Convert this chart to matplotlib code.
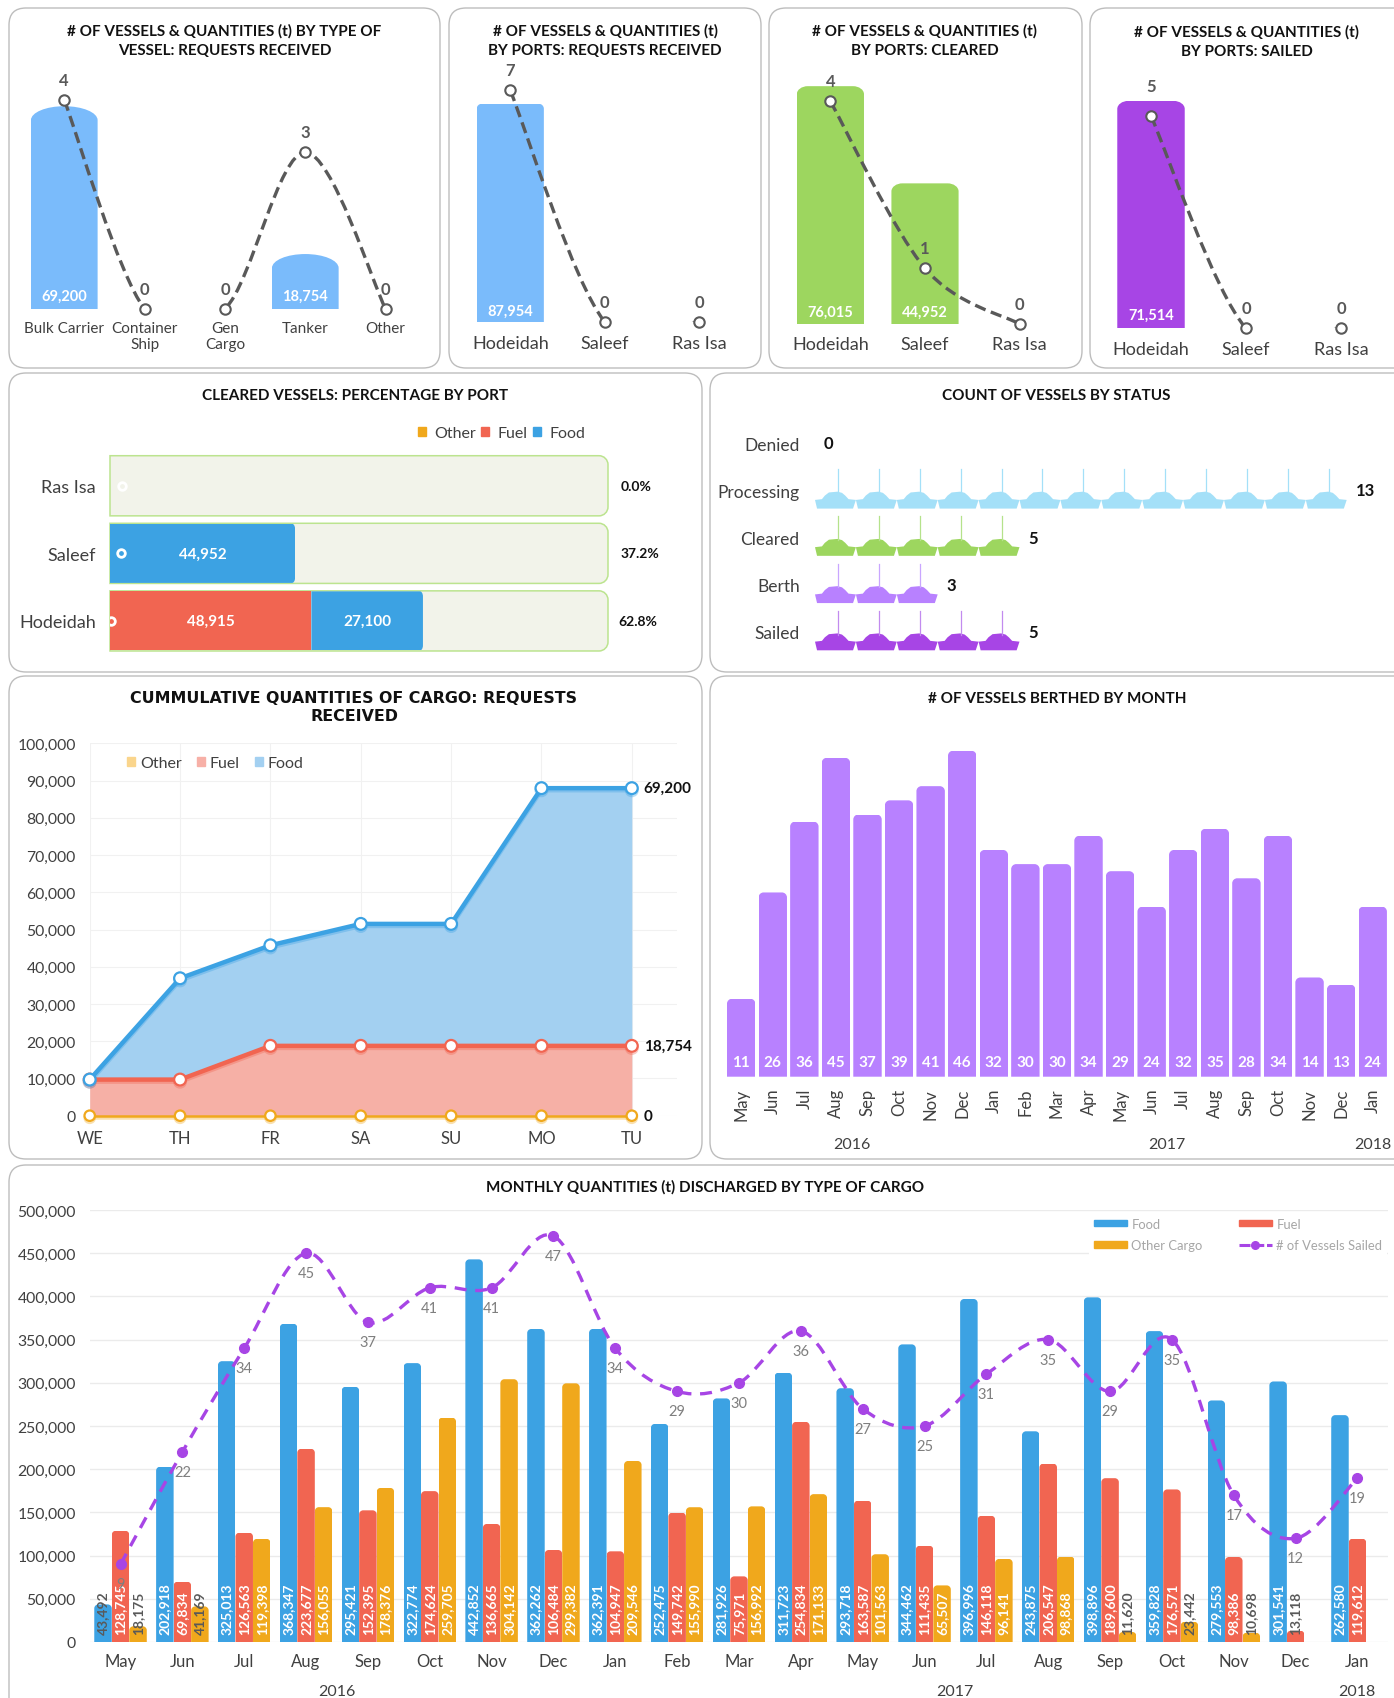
import numpy as np
import matplotlib
matplotlib.use("Agg")
import matplotlib.pyplot as plt
from matplotlib.patches import FancyBboxPatch, PathPatch, Patch
from matplotlib.lines import Line2D
from matplotlib.path import Path
import matplotlib.patheffects as pe

plt.rcParams['font.family'] = ['Lato', 'DejaVu Sans']

# ---------- data ----------
type_cats = ['Bulk Carrier', 'Container\nShip', 'Gen\nCargo', 'Tanker', 'Other']
type_qty = [69200, 0, 0, 18754, 0]
type_vessels = [4, 0, 0, 3, 0]

port_cats = ['Hodeidah', 'Saleef', 'Ras Isa']
req_qty = [87954, 0, 0]
req_vessels = [7, 0, 0]
clr_qty = [76015, 44952, 0]
clr_vessels = [4, 1, 0]
sail_qty = [71514, 0, 0]
sail_vessels = [5, 0, 0]

pct_ports = ['Hodeidah', 'Saleef', 'Ras Isa']
pct_fuel = [48915, 0, 0]
pct_food = [27100, 44952, 0]
pct_other = [0, 0, 0]
pct_total = 120967
pct_labels = ['62.8%', '37.2%', '0.0%']
pct_dots = [300, 2700, 2900]

status_cats = ['Denied', 'Processing', 'Cleared', 'Berth', 'Sailed']
status_counts = [0, 13, 5, 3, 5]

days = ['WE', 'TH', 'FR', 'SA', 'SU', 'MO', 'TU']
cum_other = [0, 0, 0, 0, 0, 0, 0]
cum_fuel = [9700, 9700, 18754, 18754, 18754, 18754, 18754]
cum_food = [0, 27200, 27000, 32750, 32750, 69200, 69200]

months = ['May', 'Jun', 'Jul', 'Aug', 'Sep', 'Oct', 'Nov', 'Dec', 'Jan', 'Feb', 'Mar',
          'Apr', 'May', 'Jun', 'Jul', 'Aug', 'Sep', 'Oct', 'Nov', 'Dec', 'Jan']
berthed = [11, 26, 36, 45, 37, 39, 41, 46, 32, 30, 30, 34, 29, 24, 32, 35, 28, 34, 14, 13, 24]

food = [43492, 202918, 325013, 368347, 295421, 322774, 442852, 362262, 362391, 252475, 281926,
        311723, 293718, 344462, 396996, 243875, 398896, 359828, 279553, 301541, 262580]
fuel = [128745, 69834, 126563, 223677, 152395, 174624, 136665, 106484, 104947, 149742, 75971,
        254834, 163587, 111435, 146118, 206547, 189600, 176571, 98386, 13118, 119612]
other = [18175, 41169, 119398, 156055, 178376, 259705, 304142, 299382, 209546, 155990, 156992,
         171133, 101563, 65507, 96141, 98868, 11620, 23442, 10698, 0, 0]
sailed = [9, 22, 34, 45, 37, 41, 41, 47, 34, 29, 30, 36, 27, 25, 31, 35, 29, 35, 17, 12, 19]

# ---------- styles ----------
W, H = 1394, 1699
BLUE, RED, ORANGE = '#3CA2E3', '#F16551', '#F0A81C'
LBLUE, LGREEN, LPURPLE, PURPLE = '#7ABBFB', '#9DD65F', '#B881FF', '#A745E5'
TXT, GRID, GREY = '#404040', '#EBEBEB', '#595959'
TITLE_KW = dict(fontweight='bold', color='#111111', ha='center', va='center', linespacing=1.42)
TITLE_FS = 11

fig = plt.figure(figsize=(W / 100, H / 100), dpi=100, facecolor='white')
bg = fig.add_axes([0, 0, 1, 1], zorder=-10)
bg.set_xlim(0, W)
bg.set_ylim(H, 0)
bg.axis('off')


def panel(x0, y0, x1, y1):
    r = 17
    bg.add_patch(FancyBboxPatch((x0 + r, y0 + r), x1 - x0 - 2 * r, y1 - y0 - 2 * r,
                                boxstyle=f"round,pad={r},rounding_size={r}",
                                fc='white', ec='#BDBDBD', lw=1.0))


def ptext(x, y, s, **kw):
    return fig.text(x / W, 1 - y / H, s, **kw)


def make_ax(x0, y0, x1, y1):
    ax = fig.add_axes([x0 / W, 1 - y1 / H, (x1 - x0) / W, (y1 - y0) / H])
    ax.patch.set_alpha(0)
    for s in ax.spines.values():
        s.set_visible(False)
    ax.tick_params(length=0, colors=TXT)
    return ax


def spline_path(xs, ys):
    pts = np.column_stack([xs, ys]).astype(float)
    n = len(pts)
    verts, codes = [pts[0]], [Path.MOVETO]
    for i in range(n - 1):
        p0, p1, p2, p3 = pts[max(i - 1, 0)], pts[i], pts[i + 1], pts[min(i + 2, n - 1)]
        verts += [p1 + (p2 - p0) / 6, p2 - (p3 - p1) / 6, p2]
        codes += [Path.CURVE4] * 3
    return Path(verts, codes)


def round_path(x0, x1, y0, y1, rx, ry, horizontal=False):
    k = 0.5523
    if not horizontal:
        v = [(x0, y0), (x0, y1 - ry), (x0, y1 - ry + k * ry), (x0 + rx - k * rx, y1), (x0 + rx, y1),
             (x1 - rx, y1), (x1 - rx + k * rx, y1), (x1, y1 - ry + k * ry), (x1, y1 - ry),
             (x1, y0), (x0, y0)]
    else:
        v = [(x0, y0), (x1 - rx, y0), (x1 - rx + k * rx, y0), (x1, y0 + ry - k * ry), (x1, y0 + ry),
             (x1, y1 - ry), (x1, y1 - ry + k * ry), (x1 - rx + k * rx, y1), (x1 - rx, y1),
             (x0, y1), (x0, y0)]
    c = [Path.MOVETO, Path.LINETO, Path.CURVE4, Path.CURVE4, Path.CURVE4, Path.LINETO,
         Path.CURVE4, Path.CURVE4, Path.CURVE4, Path.LINETO, Path.CLOSEPOLY]
    return Path(v, c)


def scales(ax):
    a = ax.transData.transform((0, 0))
    b = ax.transData.transform((1, 1))
    return abs(b[0] - a[0]), abs(b[1] - a[1])


def round_bars(ax, bars, rx_px, ry_px, horizontal=False):
    sx, sy = scales(ax)
    for b in bars:
        x, y, w, h = b.get_x(), b.get_y(), b.get_width(), b.get_height()
        if w <= 0 or h <= 0:
            continue
        rx, ry = rx_px / sx, min(ry_px / sy, h)
        b.set_clip_path(round_path(x, x + w, y, y + h, min(rx, w), ry, horizontal), ax.transData)


def combo(box, cats, qty, vessels, color, width, ylim1, ylim2, rx, ry, lab_off, fs, pad, top_off=20):
    ax = make_ax(*box)
    x = np.arange(len(cats))
    bars = ax.bar(x, qty, width=width, color=color)
    ax.set_xlim(-0.5, len(cats) - 0.5)
    ax.set_ylim(0, ylim1)
    ax.set_yticks([])
    ax.set_xticks(x, cats, fontsize=fs, color=TXT, linespacing=1.2)
    ax.tick_params(axis='x', pad=pad)
    round_bars(ax, bars, rx, ry)
    for xi, q in zip(x, qty):
        if q:
            ax.annotate(f'{q:,}', (xi, 0), xytext=(0, lab_off), textcoords='offset pixels',
                        color='white', fontweight='bold', fontsize=10.5, ha='center', va='center')
    ax2 = ax.twinx()
    ax2.patch.set_alpha(0)
    ax2.set_ylim(0, ylim2)
    ax2.set_yticks([])
    for s in ax2.spines.values():
        s.set_visible(False)
    ax2.add_patch(PathPatch(spline_path(x, vessels), fc='none', ec=GREY, lw=2.4,
                            linestyle=(0, (3.4, 1.7))))
    ax2.plot(x, vessels, ls='none', marker='o', ms=7.5, mfc='white', mec=GREY, mew=1.5, clip_on=False)
    for xi, v in zip(x, vessels):
        off = top_off if v else 20
        ax2.annotate(str(v), (xi, v), xytext=(0, off), textcoords='offset pixels', color=GREY,
                     fontweight='bold', fontsize=12, ha='center', va='center')
    return ax


# ---------- panels ----------
panel(9, 9, 440, 369)
panel(449, 9, 761, 369)
panel(769, 9, 1082, 369)
panel(1090, 9, 1430, 369)
panel(9, 374, 702, 673)
panel(710, 374, 1430, 673)
panel(9, 677, 702, 1160)
panel(710, 677, 1430, 1160)
panel(9, 1166, 1430, 1720)

# ---------- top row ----------
combo((24.1, 60, 425.8, 310), type_cats, type_qty, type_vessels, LBLUE, 0.83, 85300, 4.785, 33.5, 14, 13.5, 11, 8.5)
combo((463, 60, 746.7, 323), port_cats, req_qty, req_vessels, LBLUE, 0.71, 106000, 7.95, 5, 5, 11.5, 13, 9.5)
combo((783.1, 60, 1066.9, 325), port_cats, clr_qty, clr_vessels, LGREEN, 0.71, 84700, 4.76, 11, 8, 12.5, 13, 9)
combo((1103.5, 60, 1388.5, 329.3), port_cats, sail_qty, sail_vessels, PURPLE, 0.71, 84700, 6.34, 11, 8, 13.5, 13, 9, top_off=30)

ptext(224.5, 41, '# OF VESSELS & QUANTITIES (t) BY TYPE OF\nVESSEL: REQUESTS RECEIVED', fontsize=TITLE_FS, **TITLE_KW)
ptext(605.3, 41, '# OF VESSELS & QUANTITIES (t)\nBY PORTS: REQUESTS RECEIVED', fontsize=TITLE_FS, **TITLE_KW)
ptext(925, 41, '# OF VESSELS & QUANTITIES (t)\nBY PORTS: CLEARED', fontsize=TITLE_FS, **TITLE_KW)
ptext(1246.5, 42, '# OF VESSELS & QUANTITIES (t)\nBY PORTS: SAILED', fontsize=TITLE_FS, **TITLE_KW)

# ---------- cleared percentage ----------
ptext(355.5, 396, 'CLEARED VESSELS: PERCENTAGE BY PORT', fontsize=TITLE_FS, **TITLE_KW)
ax = make_ax(110, 453, 608, 655.7)
y = np.arange(3)
ax.set_xlim(0, pct_total)
ax.set_ylim(-0.5, 2.5)
ax.set_yticks(y, pct_ports, fontsize=13, color=TXT)
ax.set_xticks([])
ax.tick_params(axis='y', pad=10)
sx, sy = scales(ax)
for yi in y:
    ax.add_patch(PathPatch(round_path(0, pct_total, yi - 0.445, yi + 0.445, 9 / sx, 9 / sy, True),
                           fc='#F2F3EA', ec='#BCE48F', lw=1.1, clip_on=False, zorder=1))
fuel_b = ax.barh(y, pct_fuel, height=0.875, color=RED, zorder=2, label='Fuel')
food_b = ax.barh(y, pct_food, left=pct_fuel, height=0.875, color=BLUE, zorder=2, label='Food')
round_bars(ax, food_b, 3, 5, True)
for yi, f, g in zip(y, pct_fuel, pct_food):
    if f:
        ax.text(f / 2, yi, f'{f:,}', color='white', fontweight='bold', fontsize=11, ha='center', va='center', zorder=4)
    if g:
        ax.text(f + g / 2, yi, f'{g:,}', color='white', fontweight='bold', fontsize=11, ha='center', va='center', zorder=4)
ax.plot(pct_dots, y, ls='none', marker='o', ms=5.5, mfc='none', mec='white', mew=2, zorder=5)
for yi, lab, dx in zip(y, pct_labels, [10, 13, 13]):
    ax.annotate(lab, (pct_total, yi), xytext=(dx, 0), textcoords='offset pixels', color='#111111',
                fontweight='bold', fontsize=10, ha='left', va='center', annotation_clip=False)
ax.legend(handles=[Patch(color=ORANGE, label='Other'), Patch(color=RED, label='Fuel'), Patch(color=BLUE, label='Food')],
          ncol=3, frameon=False, fontsize=11.5, labelcolor=TXT, loc='center left',
          bbox_to_anchor=(418 / W, 1 - 434 / H), bbox_transform=fig.transFigure, borderpad=0, borderaxespad=0,
          handlelength=0.5, handleheight=0.5, handletextpad=0.5, columnspacing=0.36)

# ---------- ship pictogram ----------
ptext(1056.5, 396, 'COUNT OF VESSELS BY STATUS', fontsize=TITLE_FS, **TITLE_KW)
SHIP_X = [0.05, 0.93, 1.0, 0.82, 0.74, 0.66, 0.55, 0.34, 0.24, 0.17, 0.0]
SHIP_Y = [0.0, 0.0, 0.22, 0.24, 0.33, 0.40, 0.43, 0.41, 0.33, 0.24, 0.22]
ship_face = [None, '#A4E0F8', LGREEN, LPURPLE, PURPLE]
ship_mast = [None, '#A4E0F8', '#B5E28B', '#C9A6FF', '#C28BEF']
ax = make_ax(815, 420.4, 1388, 656.6)
ax.set_xlim(0, 573 / 40.9)
ax.set_ylim(4.5, -0.5)
ax.set_yticks(range(5), status_cats, fontsize=12.5, color=TXT)
ax.set_xticks([])
ax.tick_params(axis='y', pad=11)
for r, c in enumerate(status_counts):
    for i in range(c):
        xs = np.array(SHIP_X) + i
        ys = r + 0.388 - np.array(SHIP_Y) * 0.833
        ax.fill(xs, ys, color=ship_face[r], lw=0)
        ax.plot([i + 0.56, i + 0.56], [r + 0.388 - 0.4 * 0.833, r + 0.388 - 0.833], color=ship_mast[r], lw=0.9)
    ax.annotate(str(c), (c, r), xytext=(9, 0), textcoords='offset pixels', color='#111111',
                fontweight='bold', fontsize=12, ha='left', va='center', annotation_clip=False)

# ---------- cumulative area ----------
ptext(354, 708, 'CUMMULATIVE QUANTITIES OF CARGO: REQUESTS\nRECEIVED', fontsize=11.4,
      family=['DejaVu Sans'], fontweight='bold', color='#111111', ha='center', va='center', linespacing=1.25)
ax = make_ax(89.7, 744.3, 677, 1116.7)
x = np.arange(len(days))
c_other = np.array(cum_other)
c_fuel = c_other + np.array(cum_fuel)
c_food = c_fuel + np.array(cum_food)
ax.set_xlim(0, 6.5)
ax.set_ylim(0, 100000)
ax.set_yticks(np.arange(0, 100001, 10000), [f'{v:,}' for v in range(0, 100001, 10000)], fontsize=11.3, color=TXT)
ax.set_xticks(x, days, fontsize=12, color=TXT)
ax.tick_params(axis='y', pad=10)
ax.tick_params(axis='x', pad=10)
ax.grid(True, color='#F1F1F1', lw=0.8, zorder=0)
ax.set_axisbelow(True)
ax.fill_between(x, c_other, c_fuel, color='#F6B0A6', lw=0, zorder=1)
ax.fill_between(x, c_fuel, c_food, color='#A3D0F1', lw=0, zorder=1)
for vals, col in [(c_other, ORANGE), (c_fuel, RED), (c_food, BLUE)]:
    lw = 1.8 if col == ORANGE else 3.2
    ms = 7.5 if col == ORANGE else 8.5
    ax.plot(x, vals, color=col, lw=lw, marker='o', ms=ms, mfc='white', mec=col, mew=1.6, clip_on=False, zorder=3,
            path_effects=[pe.SimpleLineShadow(offset=(0, -1.5), shadow_color=col, alpha=0.35), pe.Normal()])
for lab, v in [('69,200', c_food[-1]), ('18,754', c_fuel[-1]), ('0', c_other[-1])]:
    ax.annotate(lab, (6, v), xytext=(12, 0), textcoords='offset pixels', color='#111111', fontweight='bold',
                fontsize=11, ha='left', va='center', annotation_clip=False)
ax.legend(handles=[Patch(color='#FAD58C', label='Other'), Patch(color='#F7B0A7', label='Fuel'), Patch(color='#A3D0F1', label='Food')],
          ncol=3, frameon=False, fontsize=11.5, labelcolor=TXT, loc='center left',
          bbox_to_anchor=(127 / W, 1 - 764 / H), bbox_transform=fig.transFigure, borderpad=0, borderaxespad=0,
          handlelength=0.5, handleheight=0.5, handletextpad=0.3, columnspacing=0.95)

# ---------- berthed ----------
ptext(1057, 699, '# OF VESSELS BERTHED BY MONTH', fontsize=TITLE_FS, **TITLE_KW)
ax = make_ax(725.4, 700, 1388.5, 1077.7)
x = np.arange(21)
bars = ax.bar(x, berthed, width=0.9, color=LPURPLE)
ax.set_xlim(-0.5, 20.5)
ax.set_ylim(0, 53.3)
ax.set_yticks([])
ax.set_xticks(x, months, rotation=90, fontsize=12, color=TXT)
ax.tick_params(axis='x', pad=8)
round_bars(ax, bars, 5, 5)
for xi, v in zip(x, berthed):
    ax.annotate(str(v), (xi, 0), xytext=(0, 15), textcoords='offset pixels', color='white', fontweight='bold',
                fontsize=11, ha='center', va='center')
ptext(852, 1145, '2016', fontsize=11.5, color=TXT, ha='center', va='center')
ptext(1167, 1145, '2017', fontsize=11.5, color=TXT, ha='center', va='center')
ptext(1373, 1145, '2018', fontsize=11.5, color=TXT, ha='center', va='center')

# ---------- monthly ----------
ptext(705, 1187, 'MONTHLY QUANTITIES (t) DISCHARGED BY TYPE OF CARGO', fontsize=TITLE_FS, **TITLE_KW)
ax = make_ax(89.6, 1211, 1388.4, 1643)
x = np.arange(21)
bw = 0.283
ax.set_xlim(-0.5, 20.5)
ax.set_ylim(0, 500000)
ax.set_yticks(np.arange(0, 500001, 50000), [f'{v:,}' for v in range(0, 500001, 50000)], fontsize=11.3, color=TXT)
ax.set_xticks(x, months, fontsize=12, color=TXT)
ax.tick_params(axis='y', pad=10)
ax.tick_params(axis='x', pad=8)
ax.yaxis.grid(True, color=GRID, lw=1.0)
ax.set_axisbelow(True)
for off, vals, col in [(-bw, food, BLUE), (0, fuel, RED), (bw, other, ORANGE)]:
    bars = ax.bar(x + off, vals, width=bw, color=col)
    round_bars(ax, bars, 4, 4)
    for xi, v in zip(x + off, vals):
        if v:
            small = (v < 50000 and col == ORANGE) or v in (43492, 13118)
            ax.annotate(f'{v:,}', (xi, 0), xytext=(0, 8), textcoords='offset pixels', rotation=90,
                        color=GREY if small else 'white', fontsize=10, fontweight='bold',
                        ha='center', va='bottom', zorder=4)
ax2 = ax.twinx()
ax2.patch.set_alpha(0)
ax2.set_ylim(0, 50)
ax2.set_yticks([])
for s in ax2.spines.values():
    s.set_visible(False)
ax2.add_patch(PathPatch(spline_path(x, sailed), fc='none', ec=PURPLE, lw=2.4, linestyle=(0, (3.6, 2.6))))
ax2.plot(x, sailed, ls='none', marker='o', ms=7, color=PURPLE)
for xi, v in zip(x, sailed):
    ax2.annotate(str(v), (xi, v), xytext=(0, -20), textcoords='offset pixels', color='#7F7F7F',
                 fontsize=10.5, ha='center', va='center', clip_on=False)
ax2.legend(handles=[Patch(color=BLUE, label='Food'), Patch(color=ORANGE, label='Other Cargo'),
                    Patch(color=RED, label='Fuel'),
                    Line2D([], [], color=PURPLE, lw=2.2, ls=(0, (3.6, 0.9)), marker='o', ms=5.5, label='# of Vessels Sailed')],
           ncol=2, fontsize=9.4, labelcolor='#A6A6A6', loc='upper left',
           bbox_to_anchor=(1089 / W, 1 - 1214 / H), bbox_transform=fig.transFigure, borderaxespad=0,
           facecolor='white', edgecolor='none', framealpha=1, fancybox=False, borderpad=0.35,
           handlelength=2.55, handleheight=0.42, handletextpad=0.35, columnspacing=2.75, labelspacing=0.72)
ptext(337, 1692, '2016', fontsize=11.5, color=TXT, ha='center', va='center')
ptext(955, 1692, '2017', fontsize=11.5, color=TXT, ha='center', va='center')
ptext(1357, 1692, '2018', fontsize=11.5, color=TXT, ha='center', va='center')

fig.savefig('out.png', dpi=100, facecolor='white')
